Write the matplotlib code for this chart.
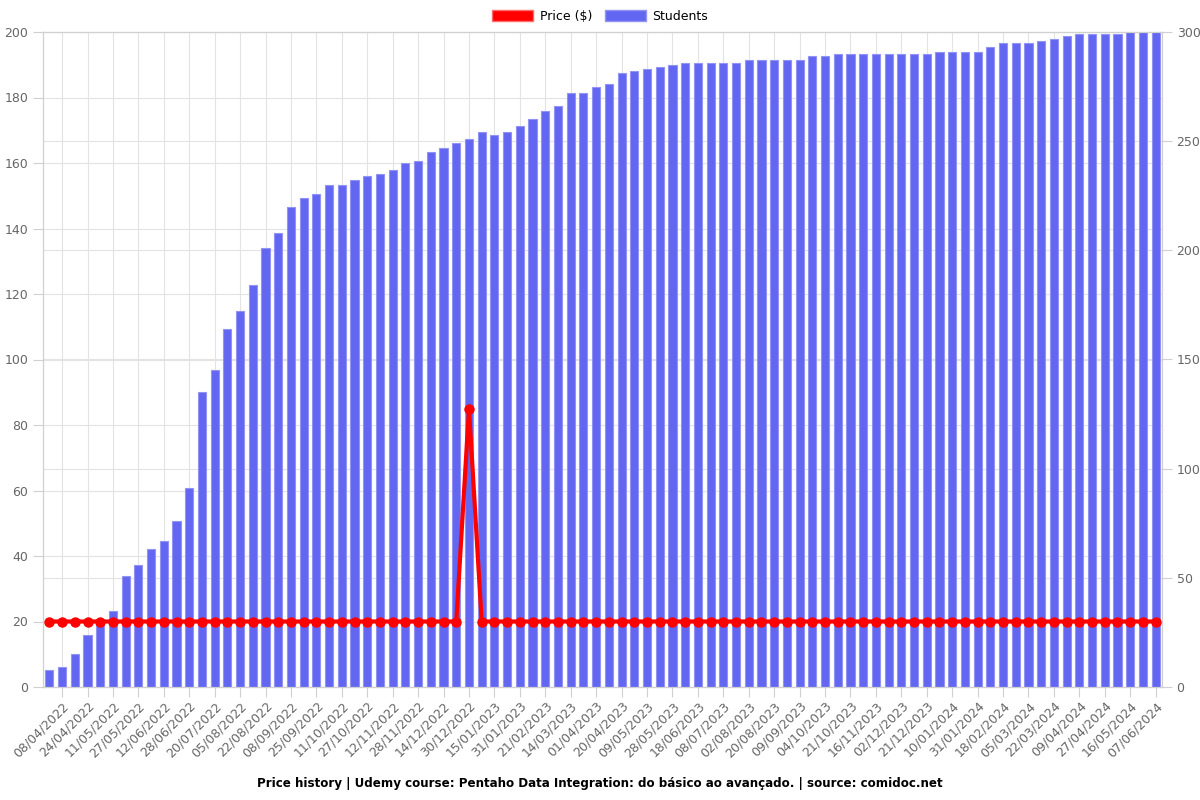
import numpy as np
import matplotlib
matplotlib.use("Agg")
import matplotlib.pyplot as plt
from matplotlib.patches import Patch
from matplotlib.transforms import blended_transform_factory

# -----------------------------------------------------------
# Data
# -----------------------------------------------------------
students = [8, 9, 15, 24, 30, 35, 51, 56, 63, 67, 76, 91,
            135, 145, 164, 172, 184, 201, 208, 220, 224, 226, 230, 230,
            232, 234, 235, 237, 240, 241, 245, 247, 249, 251, 254, 253,
            254, 257, 260, 264, 266, 272, 272, 275, 276, 281, 282, 283,
            284, 285, 286, 286, 286, 286, 286, 287, 287, 287, 287, 287,
            289, 289, 290, 290, 290, 290, 290, 290, 290, 290, 291, 291,
            291, 291, 293, 295, 295, 295, 296, 297, 298, 299, 299, 299,
            299, 300, 300, 300]

price = [20] * 33 + [85] + [20] * 54

# tick labels shown on every other bar (bars 1, 3, 5, ...)
date_labels = ["08/04/2022", "24/04/2022", "11/05/2022", "27/05/2022",
               "12/06/2022", "28/06/2022", "20/07/2022", "05/08/2022",
               "22/08/2022", "08/09/2022", "25/09/2022", "11/10/2022",
               "27/10/2022", "12/11/2022", "28/11/2022", "14/12/2022",
               "30/12/2022", "15/01/2023", "31/01/2023", "21/02/2023",
               "14/03/2023", "01/04/2023", "20/04/2023", "09/05/2023",
               "28/05/2023", "18/06/2023", "08/07/2023", "02/08/2023",
               "20/08/2023", "09/09/2023", "04/10/2023", "21/10/2023",
               "16/11/2023", "02/12/2023", "21/12/2023", "10/01/2024",
               "31/01/2024", "18/02/2024", "05/03/2024", "22/03/2024",
               "09/04/2024", "27/04/2024", "16/05/2024", "07/06/2024"]

title = ("Price history | Udemy course: Pentaho Data Integration: "
         "do básico ao avançado. | source: comidoc.net")

# -----------------------------------------------------------
# Styles
# -----------------------------------------------------------
BAR_COLOR = "#6366f1"
BAR_EDGE = "#9194f5"
LINE_COLOR = "#ff0000"
GRID = "#e3e3e3"
TICK_TXT = "#666666"

plt.rcParams["font.family"] = ["DejaVu Sans"]

fig = plt.figure(figsize=(12, 8), dpi=100)
ax = fig.add_axes([43 / 1200, 1 - 687 / 800, (1162 - 43) / 1200, (687 - 32) / 800])

x = np.arange(len(students))

# students bars (right axis)
ax.bar(x, students, width=0.64, color=BAR_COLOR, edgecolor=BAR_EDGE,
       linewidth=0.8, zorder=2)
ax.set_ylim(0, 300)
ax.set_yticks(np.arange(0, 301, 50))
ax.set_xlim(-0.5, len(students) - 0.5)
ax.set_xticks(x[1::2])
ax.set_xticklabels(date_labels, rotation=45, ha="right",
                   rotation_mode="anchor")
ax.set_axisbelow(True)
ax.grid(True, color=GRID, linewidth=0.8, zorder=0)

# price line (left axis)
ax2 = ax.twinx()
ax2.plot(x, price, color=LINE_COLOR, linewidth=3, marker="o",
         markersize=6.5, zorder=3)
ax2.set_ylim(0, 200)
ax2.set_yticks(np.arange(0, 201, 20))

# swap sides: students on the right, price on the left
ax.yaxis.tick_right()
ax2.yaxis.tick_left()

# price gridlines drawn on the bar axes so they stay behind the bars
trans = blended_transform_factory(ax.transAxes, ax2.transData)
for t in ax2.get_yticks():
    ax.plot([0, 1], [t, t], transform=trans, color=GRID, linewidth=0.8,
            zorder=0, clip_on=False)

for a in (ax, ax2):
    for s in a.spines.values():
        s.set_color("#d0d0d0")
        s.set_linewidth(0.8)
    a.tick_params(colors="#d0d0d0", labelcolor=TICK_TXT, labelsize=9,
                  length=7, width=0.8)
ax.tick_params(axis="x", pad=2)

# legend
handles = [Patch(facecolor=LINE_COLOR, edgecolor="#ff6b6b", label="Price ($)"),
           Patch(facecolor=BAR_COLOR, edgecolor=BAR_EDGE, label="Students")]
fig.legend(handles=handles, loc="center", bbox_to_anchor=(0.5, 1 - 16 / 800),
           ncol=2, frameon=False, fontsize=9, handlelength=3.3,
           handleheight=1.0, handletextpad=0.5, columnspacing=1.0)

fig.text(0.5, 1 - 783 / 800, title, ha="center", va="center",
         fontsize=8.6, fontweight="bold")

fig.savefig("out.png", dpi=100)
